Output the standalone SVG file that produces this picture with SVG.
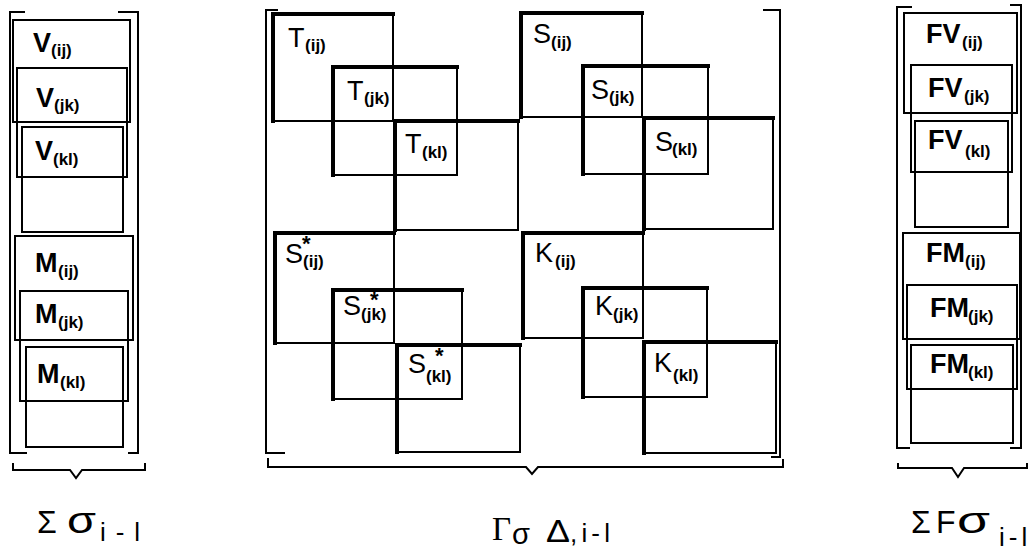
<svg xmlns="http://www.w3.org/2000/svg" width="1028" height="547" viewBox="0 0 1028 547">
<style>
.bx{fill:none;stroke:#000;stroke-width:2}
.tk{fill:none;stroke:#000;stroke-width:4;stroke-linecap:square}
.br{fill:none;stroke:#000;stroke-width:2}
.m{font-family:"Liberation Sans",Arial,sans-serif;font-size:27px;fill:#000}
.mb{font-family:"Liberation Sans",Arial,sans-serif;font-size:27px;font-weight:bold;fill:#000}
.s{font-family:"Liberation Sans",Arial,sans-serif;font-size:17px;font-weight:bold;fill:#000}
.st{font-family:"Liberation Sans",Arial,sans-serif;font-size:22px;font-weight:bold;fill:#000}
.lb{font-family:"Liberation Sans",Arial,sans-serif;fill:#000}
.sf{font-family:"Liberation Serif","Times New Roman",serif;fill:#000}
</style>
<rect width="1028" height="547" fill="#fff"/>

<g id="brackets">
<path class="br" d="M25,12 H10 V453 H27"/>
<path class="br" d="M118,12 H138 V453 H128"/>
<path class="br" d="M278,10 H266 V453 H285"/>
<path class="br" d="M763,10 H780 V457 H771"/>
<path class="br" d="M912,7 H897 V448 H910"/>
<path class="br" d="M1010,5 H1021 V448 H1010"/>
</g>

<g id="connectors">
<path class="br" d="M13,463 V470 H70 L76,478 L82,470 H145 V463"/>
<path class="br" d="M268,458 V467 H526 L532,474 L538,467 H783 V459"/>
<path class="br" d="M898,463 V468 H952 L958,477 L964,468 H1027 V463"/>
</g>

<g id="left-column">
<g id="V_ij"><rect class="bx" x="13" y="20" width="117" height="102"/><text class="mb" x="33" y="52">V</text><text class="s" x="51" y="56">(ij)</text></g>
<g id="V_jk"><rect class="bx" x="17" y="68" width="110" height="109"/><text class="mb" x="36" y="107">V</text><text class="s" x="54" y="111">(jk)</text></g>
<g id="V_kl"><rect class="bx" x="22" y="127" width="101" height="105"/><text class="mb" x="35" y="160">V</text><text class="s" x="53" y="165">(kl)</text></g>
<g id="M_ij"><rect class="bx" x="15" y="236" width="118" height="104"/><text class="mb" x="35" y="272">M</text><text class="s" x="58" y="277">(ij)</text></g>
<g id="M_jk"><rect class="bx" x="20" y="291" width="108" height="110"/><text class="mb" x="35" y="323">M</text><text class="s" x="58" y="328">(jk)</text></g>
<g id="M_kl"><rect class="bx" x="26" y="347" width="97" height="100"/><text class="mb" x="37" y="383">M</text><text class="s" x="60" y="388">(kl)</text></g>
</g>

<g id="T_ij"><rect class="bx" x="273" y="14" width="120" height="107"/><path class="tk" d="M273,121 V14 H393"/><text class="m" x="288" y="47">T</text><text class="s" x="305" y="51">(ij)</text></g>
<g id="T_jk"><rect class="bx" x="333" y="67" width="124" height="108"/><path class="tk" d="M333,175 V67 H457"/><text class="m" x="347" y="100">T</text><text class="s" x="364" y="104">(jk)</text></g>
<g id="T_kl"><rect class="bx" x="395" y="121" width="123" height="109"/><path class="tk" d="M395,230 V121 H518"/><text class="m" x="405" y="153">T</text><text class="s" x="422" y="158">(kl)</text></g>

<g id="S_ij"><rect class="bx" x="521" y="13" width="121" height="104"/><path class="tk" d="M521,117 V13 H642"/><text class="m" x="533" y="43">S</text><text class="s" x="551" y="48">(ij)</text></g>
<g id="S_jk"><rect class="bx" x="583" y="66" width="125" height="108"/><path class="tk" d="M583,174 V66 H708"/><text class="m" x="591" y="99">S</text><text class="s" x="609" y="103">(jk)</text></g>
<g id="S_kl"><rect class="bx" x="644" y="118" width="129" height="111"/><path class="tk" d="M644,229 V118 H773"/><text class="m" x="655" y="151">S</text><text class="s" x="672" y="155">(kl)</text></g>

<g id="Sstar_ij"><rect class="bx" x="275" y="233" width="119" height="110"/><path class="tk" d="M275,343 V233 H394"/><text class="m" x="285" y="263">S</text><text class="st" x="302" y="251">*</text><text class="s" x="303" y="267">(ij)</text></g>
<g id="Sstar_jk"><rect class="bx" x="333" y="290" width="129" height="109"/><path class="tk" d="M333,399 V290 H462"/><text class="m" x="343" y="315">S</text><text class="st" x="370" y="307">*</text><text class="s" x="361" y="320">(jk)</text></g>
<g id="Sstar_kl"><rect class="bx" x="397" y="345" width="123" height="107"/><path class="tk" d="M397,452 V345 H520"/><text class="m" x="408" y="373">S</text><text class="st" x="435" y="363">*</text><text class="s" x="426" y="382">(kl)</text></g>

<g id="K_ij"><rect class="bx" x="523" y="233" width="120" height="105"/><path class="tk" d="M523,338 V233 H643"/><text class="m" x="535" y="262">K</text><text class="s" x="555" y="267">(ij)</text></g>
<g id="K_jk"><rect class="bx" x="583" y="288" width="124" height="109"/><path class="tk" d="M583,397 V288 H707"/><text class="m" x="595" y="315">K</text><text class="s" x="613" y="320">(jk)</text></g>
<g id="K_kl"><rect class="bx" x="644" y="342" width="132" height="111"/><path class="tk" d="M644,453 V342 H776"/><text class="m" x="654" y="372">K</text><text class="s" x="673" y="381">(kl)</text></g>

<g id="right-column">
<g id="FV_ij"><rect class="bx" x="904" y="13" width="113" height="100"/><text class="mb" x="926" y="43">FV</text><text class="s" x="962" y="48">(ij)</text></g>
<g id="FV_jk"><rect class="bx" x="911" y="65" width="101" height="107"/><text class="mb" x="928" y="97">FV</text><text class="s" x="964" y="102">(jk)</text></g>
<g id="FV_kl"><rect class="bx" x="915" y="121" width="93" height="106"/><text class="mb" x="928" y="149">FV</text><text class="s" x="965" y="157">(kl)</text></g>
<g id="FM_ij"><rect class="bx" x="903" y="233" width="117" height="106"/><text class="mb" x="926" y="262">FM</text><text class="s" x="965" y="267">(ij)</text></g>
<g id="FM_jk"><rect class="bx" x="907" y="285" width="110" height="104"/><text class="mb" x="930" y="317">FM</text><text class="s" x="968" y="322">(jk)</text></g>
<g id="FM_kl"><rect class="bx" x="911" y="345" width="102" height="98"/><text class="mb" x="930" y="373">FM</text><text class="s" x="968" y="378">(kl)</text></g>
</g>

<g id="labels">
<text class="lb" x="37" y="533" font-size="32">Σ</text>
<text class="lb" x="67" y="533" font-size="36" textLength="29" lengthAdjust="spacingAndGlyphs">σ</text>
<text class="lb" x="100" y="541" font-size="26" textLength="40" lengthAdjust="spacing">i-l</text>

<text class="sf" x="492" y="540" font-size="33">Γ</text>
<text class="lb" x="512" y="544" font-size="30" textLength="18" lengthAdjust="spacingAndGlyphs">σ</text>
<text class="lb" x="546" y="542" font-size="31" textLength="24" lengthAdjust="spacingAndGlyphs">Δ</text>
<text class="lb" x="570" y="542" font-size="26" textLength="40" lengthAdjust="spacing">,i-l</text>

<text class="lb" x="911" y="533" font-size="32">Σ</text>
<text class="lb" x="936" y="533" font-size="32">F</text>
<text class="lb" x="957" y="533" font-size="36" textLength="33" lengthAdjust="spacingAndGlyphs">σ</text>
<text class="lb" x="999" y="546" font-size="26" letter-spacing="4">i-l</text>
</g>
</svg>
